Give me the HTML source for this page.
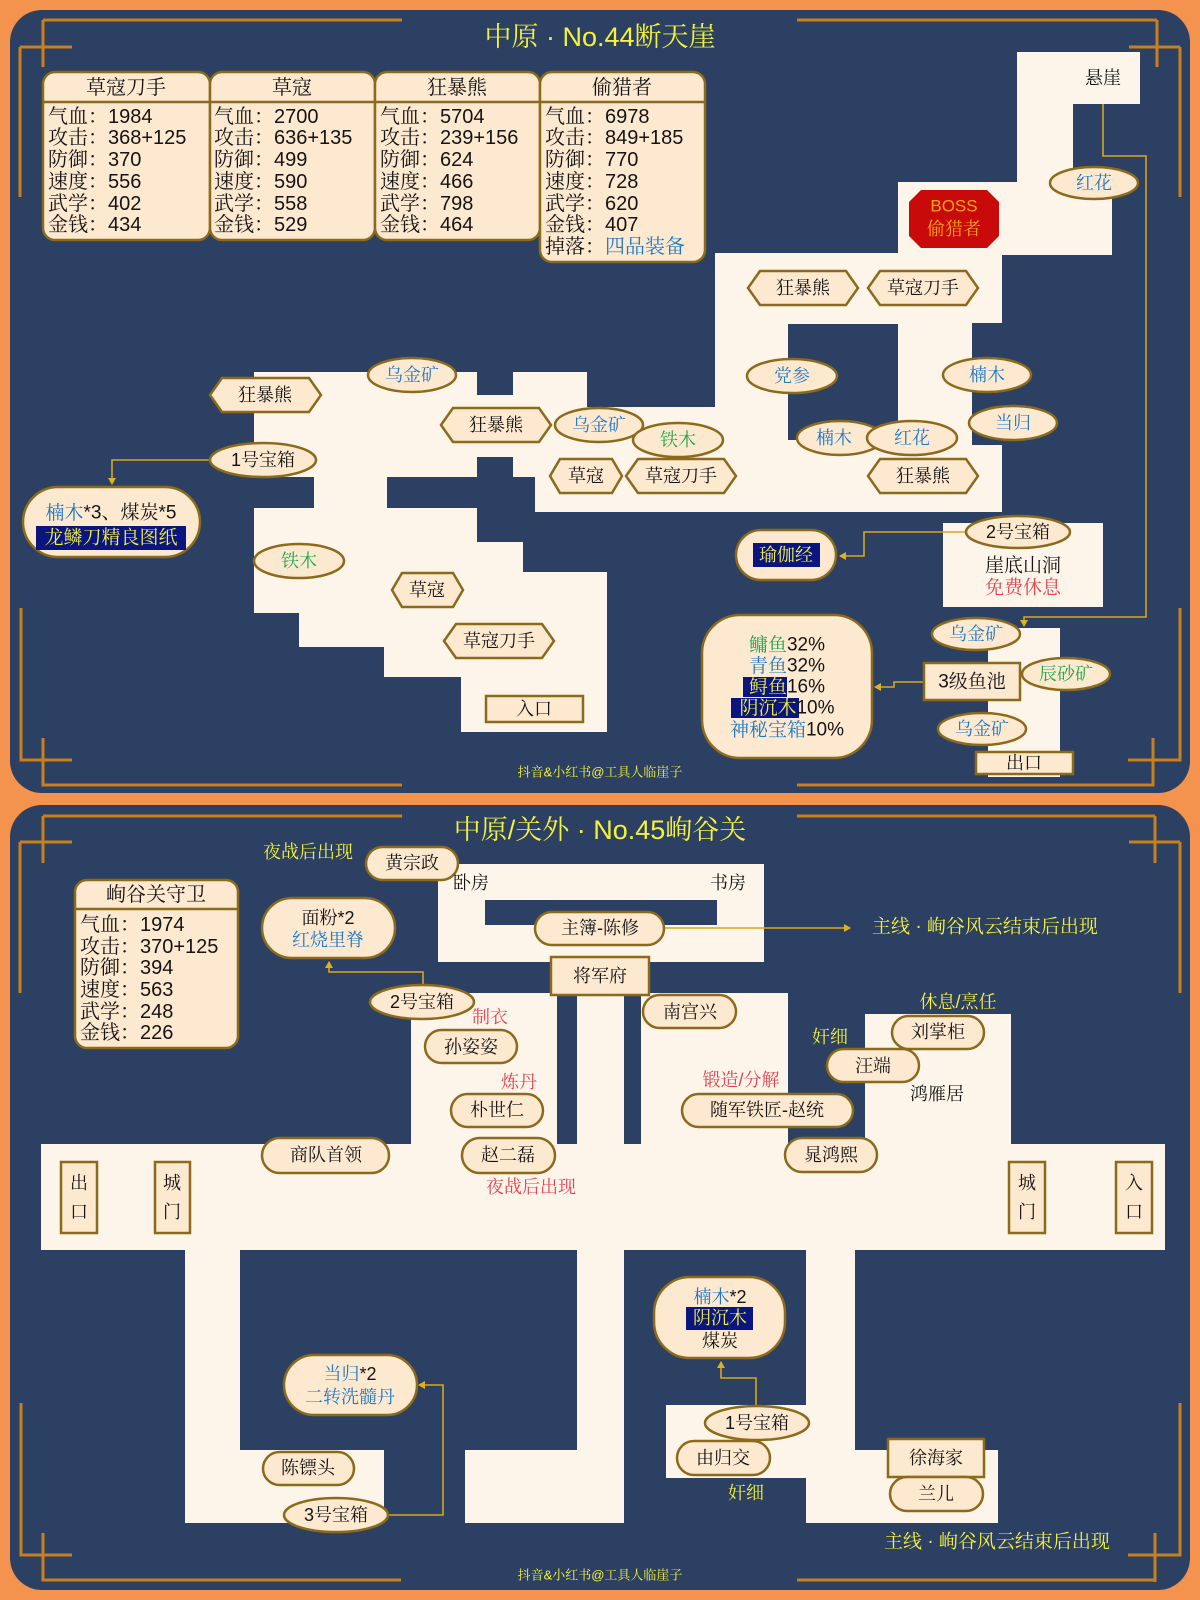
<!DOCTYPE html>
<html><head><meta charset="utf-8"><style>
html,body{margin:0;padding:0;background:#F4934E;}
svg{display:block}
.t{font-family:"Liberation Sans","Noto Serif CJK SC","Noto Sans CJK SC",serif;font-size:18px;fill:#141414;text-anchor:middle;dominant-baseline:central}
.l{font-family:"Liberation Sans","Noto Serif CJK SC","Noto Sans CJK SC",serif;font-size:20px;fill:#141414;dominant-baseline:central}
.b{fill:#1E78C8}.g{fill:#1FA64A}.r{fill:#E8414F}.y{fill:#F5F23A}.k{fill:#141414}
.lb{fill:#FDE8D0;stroke:#8C6A1C;stroke-width:2.5}
.m{fill:#FDF5EA}
.d{fill:#2C4063}
.c{fill:none;stroke:#D9A520;stroke-width:1.6}
.f{fill:none;stroke:#C8801E;stroke-width:3}
</style></head><body>
<svg width="1200" height="1600" viewBox="0 0 1200 1600" xmlns="http://www.w3.org/2000/svg">
<defs><marker id="a" markerWidth="8" markerHeight="8" refX="6" refY="4" orient="auto" markerUnits="userSpaceOnUse"><path d="M0,0 L7,4 L0,8 z" fill="#E0B020"/></marker></defs>
<rect width="1200" height="1600" fill="#F4934E"/>
<!-- PANEL 1 -->
<rect x="10" y="10" width="1180" height="783" rx="32" class="d"/>
<g class="f">
<path d="M43,20 H402 M43,20 V67 M20,47 H72 M20,47 V197"/>
<path d="M797,20 H1157 M1157,20 V67 M1129,47 H1180 M1180,47 V197"/>
<path d="M21,608 V760 H72 M43,738 V785 H402"/>
<path d="M1180,608 V760 H1128 M1153,738 V785 H797"/>
</g>
<text x="600" y="37" class="t y" style="font-size:27px">中原 · No.44断天崖</text>

<!-- stat cards -->
<g>
<rect x="43" y="72" width="167" height="168" rx="12" class="lb"/>
<rect x="210" y="72" width="165" height="168" rx="12" class="lb"/>
<rect x="375" y="72" width="165" height="168" rx="12" class="lb"/>
<rect x="540" y="72" width="165" height="190" rx="12" class="lb"/>
<path d="M43,102 H705" stroke="#8C6A1C" stroke-width="2.5"/>
<text x="126" y="88" class="t" style="font-size:20px">草寇刀手</text>
<text x="292" y="88" class="t" style="font-size:20px">草寇</text>
<text x="457" y="88" class="t" style="font-size:20px">狂暴熊</text>
<text x="622" y="88" class="t" style="font-size:20px">偷猎者</text>
<g class="l">
<text x="48" y="117">气血：1984</text><text x="48" y="138">攻击：368+125</text><text x="48" y="160">防御：370</text><text x="48" y="182">速度：556</text><text x="48" y="204">武学：402</text><text x="48" y="225">金钱：434</text>
<text x="214" y="117">气血：2700</text><text x="214" y="138">攻击：636+135</text><text x="214" y="160">防御：499</text><text x="214" y="182">速度：590</text><text x="214" y="204">武学：558</text><text x="214" y="225">金钱：529</text>
<text x="380" y="117">气血：5704</text><text x="380" y="138">攻击：239+156</text><text x="380" y="160">防御：624</text><text x="380" y="182">速度：466</text><text x="380" y="204">武学：798</text><text x="380" y="225">金钱：464</text>
<text x="545" y="117">气血：6978</text><text x="545" y="138">攻击：849+185</text><text x="545" y="160">防御：770</text><text x="545" y="182">速度：728</text><text x="545" y="204">武学：620</text><text x="545" y="225">金钱：407</text><text x="545" y="247">掉落：<tspan class="b">四品装备</tspan></text>
</g>
</g>

<!-- map 1 cream -->
<g class="m">
<rect x="254" y="372" width="223" height="105"/>
<rect x="477" y="395" width="36" height="62"/>
<rect x="513" y="372" width="74" height="105"/>
<rect x="513" y="407" width="202" height="70"/>
<rect x="535" y="453" width="467" height="59"/>
<rect x="314" y="476" width="73" height="33"/>
<polygon points="254,508 477,508 477,542 523,542 523,572 607,572 607,732 461,732 461,677 384,677 384,647 299,647 299,613 254,613"/>
<rect x="715" y="253" width="287" height="259"/>
<rect x="898" y="182" width="214" height="73"/>
<rect x="1017" y="104" width="56" height="80"/>
<rect x="1017" y="52" width="123" height="52"/>
<rect x="943" y="523" width="160" height="84"/>
<rect x="988" y="628" width="72" height="149"/>
</g>
<rect x="788" y="324" width="110" height="116" class="d"/>
<rect x="972" y="323" width="30" height="122" class="d"/>

<!-- connectors map1 -->
<polyline points="210,460 112,460 112,484" class="c" marker-end="url(#a)"/>
<polyline points="1103,104 1103,156 1146,156 1146,617 1024,617 1024,626" class="c" marker-end="url(#a)"/>
<polyline points="965,532 864,532 864,556 840,556" class="c" marker-end="url(#a)"/>
<polyline points="924,682 894,682 894,687 875,687" class="c" marker-end="url(#a)"/>

<!-- labels map1 -->
<g class="t">
<polygon points="210,395 222,378 309,378 321,395 309,412 222,412" class="lb"/><text x="265" y="395">狂暴熊</text>
<ellipse cx="412" cy="375" rx="44" ry="17" class="lb"/><text x="412" y="375" class="b">乌金矿</text>
<ellipse cx="263" cy="460" rx="53" ry="17" class="lb"/><text x="263" y="460">1号宝箱</text>
<rect x="23" y="487" width="177" height="70" rx="35" class="lb"/>
<text x="111" y="513" style="font-size:19px"><tspan class="b">楠木</tspan>*3、煤炭*5</text>
<rect x="36" y="526" width="150" height="24" fill="#0A1580"/><text x="111" y="538" class="y" style="font-size:19px">龙鳞刀精良图纸</text>
<polygon points="441,425 453,408 539,408 551,425 539,442 453,442" class="lb"/><text x="496" y="425">狂暴熊</text>
<ellipse cx="599" cy="425" rx="44" ry="17" class="lb"/><text x="599" y="425" class="b">乌金矿</text>
<ellipse cx="678" cy="440" rx="45" ry="17" class="lb"/><text x="678" y="440" class="g">铁木</text>
<polygon points="550,476 560,459 612,459 622,476 612,493 560,493" class="lb"/><text x="586" y="476">草寇</text>
<polygon points="626,476 638,459 724,459 736,476 724,493 638,493" class="lb"/><text x="681" y="476">草寇刀手</text>
<ellipse cx="299" cy="561" rx="45" ry="17" class="lb"/><text x="299" y="561" class="g">铁木</text>
<polygon points="392,590 402,573 453,573 463,590 453,607 402,607" class="lb"/><text x="427" y="590">草寇</text>
<polygon points="444,641 456,624 542,624 554,641 542,658 456,658" class="lb"/><text x="499" y="641">草寇刀手</text>
<rect x="486" y="696" width="97" height="26" class="lb"/><text x="534" y="709">入口</text>
<polygon points="748,288 760,271 846,271 858,288 846,305 760,305" class="lb"/><text x="803" y="288">狂暴熊</text>
<polygon points="868,288 880,271 966,271 978,288 966,305 880,305" class="lb"/><text x="923" y="288">草寇刀手</text>
<ellipse cx="792" cy="376" rx="45" ry="17" class="lb"/><text x="792" y="376" class="b">党参</text>
<ellipse cx="987" cy="375" rx="44" ry="17" class="lb"/><text x="987" y="375" class="b">楠木</text>
<ellipse cx="1013" cy="423" rx="44" ry="17" class="lb"/><text x="1013" y="423" class="b">当归</text>
<ellipse cx="840" cy="438" rx="43" ry="17" class="lb"/><text x="834" y="438" class="b">楠木</text>
<ellipse cx="912" cy="438" rx="45" ry="17" class="lb"/><text x="912" y="438" class="b">红花</text>
<polygon points="868,476 880,459 966,459 978,476 966,493 880,493" class="lb"/><text x="923" y="476">狂暴熊</text>
<polygon points="921,190 987,190 999,202 999,236 987,248 921,248 909,236 909,202" fill="#C80A0A"/>
<text x="954" y="206" style="fill:#F7A21B;font-size:17px">BOSS</text><text x="954" y="229" style="fill:#F7A21B;font-size:18px">偷猎者</text>
<ellipse cx="1094" cy="183" rx="44" ry="16" class="lb"/><text x="1094" y="183" class="b">红花</text>
<text x="1103" y="78">悬崖</text>
<ellipse cx="1018" cy="532" rx="52" ry="16" class="lb"/><text x="1018" y="532">2号宝箱</text>
<text x="1023" y="566" style="font-size:19px">崖底山洞</text><text x="1023" y="588" class="r" style="font-size:19px">免费休息</text>
<rect x="736" y="530" width="100" height="50" rx="25" class="lb"/>
<rect x="753" y="543" width="67" height="24" fill="#0A1580"/><text x="786" y="555" class="y">瑜伽经</text>
<rect x="702" y="615" width="170" height="143" rx="38" class="lb"/>
<rect x="743" y="677" width="44" height="20" fill="#0A1580"/>
<rect x="731" y="698" width="68" height="20" fill="#0A1580"/>
<text x="787" y="645" style="font-size:19px"><tspan class="g">鳙鱼</tspan>32%</text>
<text x="787" y="666" style="font-size:19px"><tspan class="b">青鱼</tspan>32%</text>
<text x="787" y="687" style="font-size:19px"><tspan class="y">鲟鱼</tspan>16%</text>
<text x="787" y="708" style="font-size:19px"><tspan class="y">阴沉木</tspan>10%</text>
<text x="787" y="730" style="font-size:19px"><tspan class="b">神秘宝箱</tspan>10%</text>
<ellipse cx="976" cy="634" rx="44" ry="16" class="lb"/><text x="976" y="634" class="b">乌金矿</text>
<rect x="924" y="663" width="96" height="37" class="lb"/><text x="972" y="682" style="font-size:19px">3级鱼池</text>
<ellipse cx="1066" cy="674" rx="44" ry="16" class="lb"/><text x="1066" y="674" class="g">辰砂矿</text>
<ellipse cx="982" cy="729" rx="44" ry="16" class="lb"/><text x="982" y="729" class="b">乌金矿</text>
<rect x="976" y="752" width="97" height="22" class="lb"/><text x="1024" y="763">出口</text>
<text x="600" y="772" class="y" style="font-size:13px">抖音&amp;小红书@工具人临崖子</text>
</g>

<!-- PANEL 2 -->
<rect x="10" y="805" width="1180" height="785" rx="32" class="d"/>
<g class="f">
<path d="M43,816 H402 M43,816 V863 M20,842 H72 M20,842 V993"/>
<path d="M797,816 H1155 M1155,816 V863 M1129,842 H1180 M1180,842 V993"/>
<path d="M21,1403 V1555 H72 M43,1533 V1580 H401"/>
<path d="M1180,1403 V1555 H1128 M1155,1533 V1582 M1155,1580 H797"/>
</g>
<text x="600" y="830" class="t y" style="font-size:27px">中原/关外 · No.45峋谷关</text>

<g class="m">
<rect x="438" y="864" width="326" height="98"/>
<rect x="411" y="993" width="146" height="151"/>
<rect x="577" y="957" width="47" height="187"/>
<rect x="641" y="993" width="147" height="151"/>
<rect x="865" y="1014" width="146" height="130"/>
<rect x="41" y="1144" width="1124" height="106"/>
<rect x="185" y="1250" width="55" height="273"/>
<rect x="240" y="1450" width="144" height="73"/>
<rect x="577" y="1250" width="47" height="273"/>
<rect x="465" y="1450" width="159" height="73"/>
<rect x="806" y="1250" width="49" height="273"/>
<rect x="666" y="1405" width="140" height="73"/>
<rect x="855" y="1450" width="143" height="73"/>
</g>
<rect x="485" y="900" width="232" height="25" class="d"/>

<polyline points="664,928 850,928" class="c" marker-end="url(#a)"/>
<polyline points="423,987 423,972 329,972 329,962" class="c" marker-end="url(#a)"/>
<polyline points="388,1515 443,1515 443,1385 419,1385" class="c" marker-end="url(#a)"/>
<polyline points="756,1407 756,1378 721,1378 721,1362" class="c" marker-end="url(#a)"/>

<g class="t">
<rect x="75" y="880" width="163" height="168" rx="12" class="lb"/>
<path d="M75,909 H238" stroke="#8C6A1C" stroke-width="2.5"/>
<text x="156" y="895" style="font-size:20px">峋谷关守卫</text>
</g>
<g class="l">
<text x="80" y="925">气血：1974</text><text x="80" y="947">攻击：370+125</text><text x="80" y="968">防御：394</text><text x="80" y="990">速度：563</text><text x="80" y="1012">武学：248</text><text x="80" y="1033">金钱：226</text>
</g>
<g class="t">
<text x="308" y="852" class="y">夜战后出现</text>
<rect x="366" y="847" width="92" height="33" rx="16.5" class="lb"/><text x="412" y="863">黄宗政</text>
<text x="471" y="883">卧房</text><text x="728" y="883">书房</text>
<rect x="535" y="912" width="129" height="33" rx="16.5" class="lb"/><text x="600" y="928">主簿-陈修</text>
<text x="985" y="927" class="y" style="font-size:19px">主线 · 峋谷风云结束后出现</text>
<rect x="551" y="957" width="98" height="38" class="lb"/><text x="600" y="976">将军府</text>
<rect x="262" y="898" width="133" height="60" rx="30" class="lb"/><text x="328" y="918">面粉*2</text><text x="328" y="940" class="b">红烧里脊</text>
<ellipse cx="422" cy="1002" rx="52" ry="17" class="lb"/><text x="422" y="1002">2号宝箱</text>
<text x="490" y="1017" class="r">制衣</text>
<rect x="425" y="1030" width="92" height="33" rx="16.5" class="lb"/><text x="471" y="1047">孙姿姿</text>
<text x="519" y="1082" class="r">炼丹</text>
<rect x="451" y="1094" width="92" height="33" rx="16.5" class="lb"/><text x="497" y="1110">朴世仁</text>
<rect x="262" y="1138" width="127" height="35" rx="17.5" class="lb"/><text x="326" y="1155">商队首领</text>
<rect x="462" y="1138" width="93" height="35" rx="17.5" class="lb"/><text x="508" y="1155">赵二磊</text>
<text x="531" y="1187" class="r">夜战后出现</text>
<rect x="643" y="995" width="93" height="33" rx="16.5" class="lb"/><text x="690" y="1012">南宫兴</text>
<text x="958" y="1002" class="y">休息/烹任</text>
<rect x="892" y="1016" width="92" height="33" rx="16.5" class="lb"/><text x="938" y="1032">刘掌柜</text>
<text x="830" y="1037" class="y">奸细</text>
<rect x="827" y="1049" width="92" height="33" rx="16.5" class="lb"/><text x="873" y="1066">汪端</text>
<text x="937" y="1094">鸿雁居</text>
<text x="741" y="1080" class="r">锻造/分解</text>
<rect x="682" y="1094" width="171" height="33" rx="16.5" class="lb"/><text x="767" y="1110">随军铁匠-赵统</text>
<rect x="785" y="1138" width="92" height="34" rx="17" class="lb"/><text x="831" y="1155">晁鸿熙</text>
<rect x="61" y="1162" width="36" height="71" class="lb"/><text x="79" y="1183">出</text><text x="79" y="1212">口</text>
<rect x="155" y="1162" width="35" height="71" class="lb"/><text x="172" y="1183">城</text><text x="172" y="1212">门</text>
<rect x="1009" y="1162" width="36" height="71" class="lb"/><text x="1027" y="1183">城</text><text x="1027" y="1212">门</text>
<rect x="1116" y="1162" width="36" height="71" class="lb"/><text x="1134" y="1183">入</text><text x="1134" y="1212">口</text>
<rect x="284" y="1355" width="133" height="60" rx="30" class="lb"/><text x="350" y="1374" class="b"><tspan class="b">当归</tspan><tspan class="k">*2</tspan></text><text x="350" y="1397" class="b">二转洗髓丹</text>
<rect x="263" y="1452" width="91" height="33" rx="16.5" class="lb"/><text x="308" y="1468">陈镖头</text>
<ellipse cx="336" cy="1515" rx="52" ry="17" class="lb"/><text x="336" y="1515">3号宝箱</text>
<rect x="654" y="1277" width="131" height="81" rx="36" class="lb"/>
<rect x="686" y="1307" width="67" height="23" fill="#0A1580"/>
<text x="720" y="1297"><tspan class="b">楠木</tspan>*2</text><text x="720" y="1318" class="y">阴沉木</text><text x="720" y="1341">煤炭</text>
<ellipse cx="757" cy="1423" rx="52" ry="17" class="lb"/><text x="757" y="1423">1号宝箱</text>
<rect x="677" y="1441" width="93" height="34" rx="17" class="lb"/><text x="723" y="1458">由归交</text>
<text x="746" y="1493" class="y">奸细</text>
<rect x="888" y="1439" width="96" height="38" class="lb"/><text x="936" y="1458">徐海家</text>
<rect x="890" y="1477" width="93" height="34" rx="17" class="lb"/><text x="936" y="1494">兰儿</text>
<text x="997" y="1542" class="y" style="font-size:19px">主线 · 峋谷风云结束后出现</text>
<text x="600" y="1575" class="y" style="font-size:13px">抖音&amp;小红书@工具人临崖子</text>
</g>
</svg>
</body></html>
